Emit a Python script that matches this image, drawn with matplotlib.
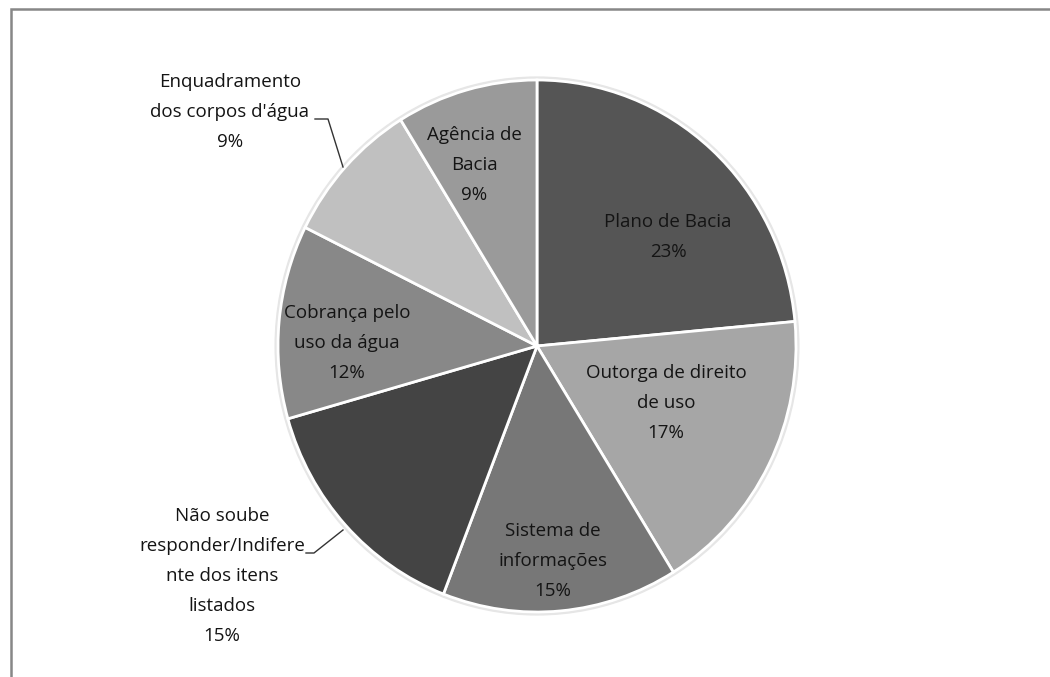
import matplotlib
matplotlib.use("Agg")
import matplotlib.pyplot as plt
from matplotlib.patches import Ellipse, Rectangle

categories = ["Plano de Bacia", "Outorga de direito de uso", "Sistema de informações",
              "Não soube responder/Indiferente dos itens listados",
              "Cobrança pelo uso da água", "Enquadramento dos corpos d'água",
              "Agência de Bacia"]
values = [8, 6, 5, 5, 4, 3, 3]
percent_labels = ["23%", "17%", "15%", "15%", "12%", "9%", "9%"]
label_lines = [["Plano de Bacia"], ["Outorga de direito", "de uso"],
               ["Sistema de", "informações"],
               ["Não soube", "responder/Indifere", "nte dos itens", "listados"],
               ["Cobrança pelo", "uso da água"],
               ["Enquadramento", "dos corpos d'água"],
               ["Agência de", "Bacia"]]
colors = ["#555555", "#a6a6a6", "#777777", "#444444", "#888888", "#c0c0c0", "#9a9a9a"]

W, H = 1050, 677
fig = plt.figure(figsize=(W / 100, H / 100), dpi=100)
fig.patch.set_facecolor("white")

cx, cy = 537, 346
rx, ry = 259, 266
ax = fig.add_axes([0, 0, 1, 1])

# soft shadow ring
ax.add_patch(Ellipse((0, 0), 2.022, 2.022, color="#e6e6e6", zorder=0))
ax.pie(values, colors=colors, startangle=90, counterclock=False, radius=1.0,
       wedgeprops=dict(edgecolor="white", linewidth=2), frame=False)
ax.set_xlim(-cx / rx, (W - cx) / rx)
ax.set_ylim(-(H - cy) / ry, cy / ry)
ax.set_aspect("auto")
ax.axis("off")

# frame of chart area
fig.patches.append(Rectangle((11 / W, -0.1), 1.2, 1 - 9 / H + 0.1, transform=fig.transFigure,
                             fill=False, edgecolor="#878787", linewidth=1.8))

font = dict(family=["Open Sans", "DejaVu Sans"], fontsize=13.5, color="#141414",
            ha="center", va="center")
line_h = 30
# label centre (x, y of first line) in pixels
pos = [(668, 222), (666, 373), (553, 531), (222, 516), (347, 313), (230, 82), (474, 135)]
for (x, y), lines, pct in zip(pos, label_lines, percent_labels):
    for i, t in enumerate(lines + [pct]):
        fig.text(x / W, 1 - (y + i * line_h) / H, t, **font)

# leader lines
def leader(pts):
    xs = [p[0] / W for p in pts]
    ys = [1 - p[1] / H for p in pts]
    fig.add_artist(plt.Line2D(xs, ys, transform=fig.transFigure, color="#333333", linewidth=1))

leader([(306, 553), (314, 553), (343, 530)])
leader([(315, 119), (328, 119), (343, 167)])

fig.savefig("out.png", dpi=100, facecolor="white")
